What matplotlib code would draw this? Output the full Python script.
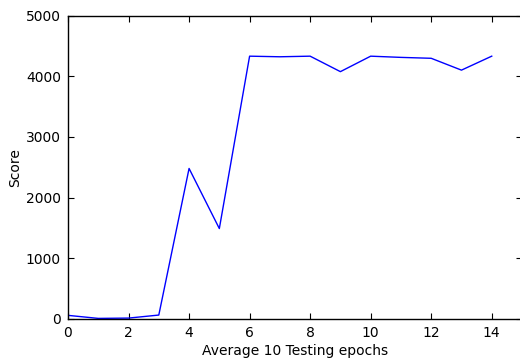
import matplotlib
matplotlib.use("Agg")
import matplotlib.pyplot as plt

epochs = list(range(15))
scores = [60, 10, 15, 65, 2480, 1490, 4330, 4320, 4330, 4075, 4330, 4310, 4295, 4100, 4330]
xticks = [0, 2, 4, 6, 8, 10, 12, 14]
yticks = [0, 1000, 2000, 3000, 4000, 5000]

fig = plt.figure(figsize=(5.2, 3.61), dpi=100)
ax = fig.add_axes([68/520, 1 - 319/361, (522 - 68)/520, (319 - 15.5)/361])
ax.plot(epochs, scores, color='#0000ff', linewidth=1.0)
ax.set_xlim(0, 15)
ax.set_ylim(0, 5000)
ax.set_xticks(xticks)
ax.set_yticks(yticks)
ax.tick_params(direction='in', top=True, right=True, length=4, width=0.8, labelsize=10, pad=5)
for s in ax.spines.values():
    s.set_linewidth(1.0)
ax.set_xlabel("Average 10 Testing epochs", fontsize=10, labelpad=3)
ax.set_ylabel("Score", fontsize=10, labelpad=3)
fig.savefig("out.png", dpi=100)
